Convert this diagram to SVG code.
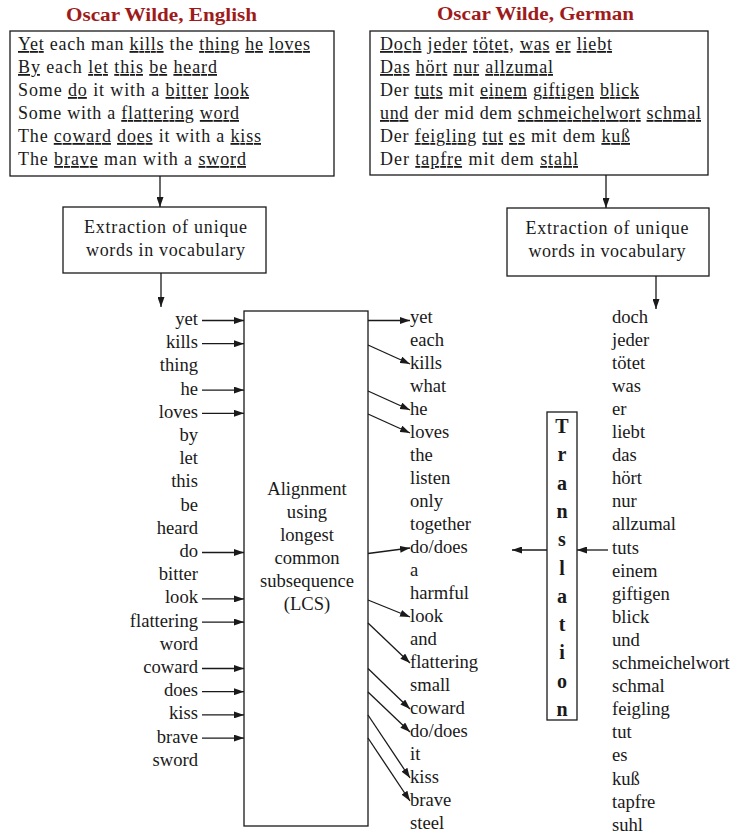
<svg xmlns="http://www.w3.org/2000/svg" width="733" height="835" viewBox="0 0 733 835">
<style>
.t{font-family:"Liberation Serif","Times New Roman",serif;font-size:18px;fill:#1a1a1a}
.w{font-size:18.6px}
.u{text-decoration:underline}
.ttl{font-weight:bold;fill:#9e1b1b}
.b{font-weight:bold;font-size:20px}
.box{fill:#fff;stroke:#1a1a1a;stroke-width:1.3}
.r{text-anchor:end}
.m{text-anchor:middle}
#connectors line{stroke:#1a1a1a;stroke-width:1.3;marker-end:url(#ah)}
</style>
<defs>
<marker id="ah" viewBox="0 0 10 7" markerWidth="10" markerHeight="7" markerUnits="userSpaceOnUse" refX="10" refY="3.5" orient="auto">
<path d="M0,0 L10,3.5 L0,7 z" fill="#1a1a1a"/>
</marker>
</defs>
<rect width="733" height="835" fill="#fff"/>

<g id="poem-en">
<text class="t ttl m" x="161.5" y="21" textLength="191" lengthAdjust="spacingAndGlyphs">Oscar Wilde, English</text>
<rect class="box" x="10" y="31" width="324" height="145"/>
<text class="t" x="18" y="50" textLength="292"><tspan class="u">Yet</tspan> each man <tspan class="u">kills</tspan> the <tspan class="u">thing</tspan> <tspan class="u">he</tspan> <tspan class="u">loves</tspan></text>
<text class="t" x="18" y="73" textLength="199"><tspan class="u">By</tspan> each <tspan class="u">let</tspan> <tspan class="u">this</tspan> <tspan class="u">be</tspan> <tspan class="u">heard</tspan></text>
<text class="t" x="18" y="96" textLength="231">Some <tspan class="u">do</tspan> it with a <tspan class="u">bitter</tspan> <tspan class="u">look</tspan></text>
<text class="t" x="18" y="119" textLength="221">Some with a <tspan class="u">flattering</tspan> <tspan class="u">word</tspan></text>
<text class="t" x="18" y="142" textLength="243">The <tspan class="u">coward</tspan> <tspan class="u">does</tspan> it with a <tspan class="u">kiss</tspan></text>
<text class="t" x="18" y="165" textLength="228">The <tspan class="u">brave</tspan> man with a <tspan class="u">sword</tspan></text>
</g>

<g id="poem-de">
<text class="t ttl m" x="535.5" y="20" textLength="197" lengthAdjust="spacingAndGlyphs">Oscar Wilde, German</text>
<rect class="box" x="370" y="31" width="338" height="144"/>
<text class="t" x="380" y="50" textLength="232"><tspan class="u">Doch</tspan> <tspan class="u">jeder</tspan> <tspan class="u">tötet</tspan>, <tspan class="u">was</tspan> <tspan class="u">er</tspan> <tspan class="u">liebt</tspan></text>
<text class="t" x="380" y="73" textLength="173"><tspan class="u">Das</tspan> <tspan class="u">hört</tspan> <tspan class="u">nur</tspan> <tspan class="u">allzumal</tspan></text>
<text class="t" x="380" y="96" textLength="259">Der <tspan class="u">tuts</tspan> mit <tspan class="u">einem</tspan> <tspan class="u">giftigen</tspan> <tspan class="u">blick</tspan></text>
<text class="t" x="380" y="119" textLength="321"><tspan class="u">und</tspan> der mid dem <tspan class="u">schmeichelwort</tspan> <tspan class="u">schmal</tspan></text>
<text class="t" x="380" y="142" textLength="250">Der <tspan class="u">feigling</tspan> <tspan class="u">tut</tspan> <tspan class="u">es</tspan> mit dem <tspan class="u">kuß</tspan></text>
<text class="t" x="380" y="165" textLength="198">Der <tspan class="u">tapfre</tspan> mit dem <tspan class="u">stahl</tspan></text>
</g>

<g id="extract-en">
<rect class="box" x="63" y="207" width="203" height="66"/>
<text class="t m" x="165.5" y="233" textLength="163">Extraction of unique</text>
<text class="t m" x="165.5" y="256" textLength="159">words in vocabulary</text>
</g>

<g id="extract-de">
<rect class="box" x="507" y="208" width="202" height="68"/>
<text class="t m" x="607" y="234" textLength="163">Extraction of unique</text>
<text class="t m" x="607" y="257" textLength="157">words in vocabulary</text>
</g>

<g id="vocab-en">
<text class="t w r" x="198" y="325">yet</text>
<text class="t w r" x="198" y="348.2">kills</text>
<text class="t w r" x="198" y="371.4">thing</text>
<text class="t w r" x="198" y="394.6">he</text>
<text class="t w r" x="198" y="417.8">loves</text>
<text class="t w r" x="198" y="441">by</text>
<text class="t w r" x="198" y="464.2">let</text>
<text class="t w r" x="198" y="487.4">this</text>
<text class="t w r" x="198" y="510.6">be</text>
<text class="t w r" x="198" y="533.8">heard</text>
<text class="t w r" x="198" y="557">do</text>
<text class="t w r" x="198" y="580.2">bitter</text>
<text class="t w r" x="198" y="603.4">look</text>
<text class="t w r" x="198" y="626.6">flattering</text>
<text class="t w r" x="198" y="649.8">word</text>
<text class="t w r" x="198" y="673">coward</text>
<text class="t w r" x="198" y="696.2">does</text>
<text class="t w r" x="198" y="719.4">kiss</text>
<text class="t w r" x="198" y="742.6">brave</text>
<text class="t w r" x="198" y="765.8">sword</text>
</g>

<g id="lcs">
<rect class="box" x="244" y="311" width="124" height="515"/>
<text class="t w m" x="307" y="495">Alignment</text>
<text class="t w m" x="307" y="518">using</text>
<text class="t w m" x="307" y="541">longest</text>
<text class="t w m" x="307" y="564">common</text>
<text class="t w m" x="307" y="587">subsequence</text>
<text class="t w m" x="307" y="610">(LCS)</text>
</g>

<g id="aligned">
<text class="t w" x="410" y="323">yet</text>
<text class="t w" x="410" y="346">each</text>
<text class="t w" x="410" y="369">kills</text>
<text class="t w" x="410" y="392">what</text>
<text class="t w" x="410" y="415">he</text>
<text class="t w" x="410" y="438">loves</text>
<text class="t w" x="410" y="461">the</text>
<text class="t w" x="410" y="484">listen</text>
<text class="t w" x="410" y="507">only</text>
<text class="t w" x="410" y="530">together</text>
<text class="t w" x="410" y="553">do/does</text>
<text class="t w" x="410" y="576">a</text>
<text class="t w" x="410" y="599">harmful</text>
<text class="t w" x="410" y="622">look</text>
<text class="t w" x="410" y="645">and</text>
<text class="t w" x="410" y="668">flattering</text>
<text class="t w" x="410" y="691">small</text>
<text class="t w" x="410" y="714">coward</text>
<text class="t w" x="410" y="737">do/does</text>
<text class="t w" x="410" y="760">it</text>
<text class="t w" x="410" y="783">kiss</text>
<text class="t w" x="410" y="806">brave</text>
<text class="t w" x="410" y="829">steel</text>
</g>

<g id="translation">
<rect class="box" x="547" y="412" width="30" height="308"/>
<text class="t b m" x="562" y="433">T</text>
<text class="t b m" x="562" y="461.3">r</text>
<text class="t b m" x="562" y="489.6">a</text>
<text class="t b m" x="562" y="517.9">n</text>
<text class="t b m" x="562" y="546.2">s</text>
<text class="t b m" x="562" y="574.5">l</text>
<text class="t b m" x="562" y="602.8">a</text>
<text class="t b m" x="562" y="631.1">t</text>
<text class="t b m" x="562" y="659.4">i</text>
<text class="t b m" x="562" y="687.7">o</text>
<text class="t b m" x="562" y="716">n</text>
</g>

<g id="vocab-de">
<text class="t w" x="612" y="322.5">doch</text>
<text class="t w" x="612" y="345.6">jeder</text>
<text class="t w" x="612" y="368.7">tötet</text>
<text class="t w" x="612" y="391.8">was</text>
<text class="t w" x="612" y="414.9">er</text>
<text class="t w" x="612" y="438">liebt</text>
<text class="t w" x="612" y="461.1">das</text>
<text class="t w" x="612" y="484.2">hört</text>
<text class="t w" x="612" y="507.3">nur</text>
<text class="t w" x="612" y="530.4">allzumal</text>
<text class="t w" x="612" y="553.5">tuts</text>
<text class="t w" x="612" y="576.6">einem</text>
<text class="t w" x="612" y="599.7">giftigen</text>
<text class="t w" x="612" y="622.8">blick</text>
<text class="t w" x="612" y="645.9">und</text>
<text class="t w" x="612" y="669">schmeichelwort</text>
<text class="t w" x="612" y="692.1">schmal</text>
<text class="t w" x="612" y="715.2">feigling</text>
<text class="t w" x="612" y="738.3">tut</text>
<text class="t w" x="612" y="761.4">es</text>
<text class="t w" x="612" y="784.5">kuß</text>
<text class="t w" x="612" y="807.6">tapfre</text>
<text class="t w" x="612" y="830.5">suhl</text>
</g>

<g id="connectors">
<line x1="160" y1="176" x2="160" y2="207"/>
<line x1="161" y1="273" x2="161" y2="307"/>
<line x1="606" y1="175" x2="606" y2="208"/>
<line x1="656" y1="276" x2="656" y2="309"/>
<line x1="202" y1="320.5" x2="244" y2="320.5"/>
<line x1="202" y1="343.7" x2="244" y2="343.7"/>
<line x1="202" y1="390.1" x2="244" y2="390.1"/>
<line x1="202" y1="413.3" x2="244" y2="413.3"/>
<line x1="202" y1="552.5" x2="244" y2="552.5"/>
<line x1="202" y1="598.9" x2="244" y2="598.9"/>
<line x1="202" y1="622.1" x2="244" y2="622.1"/>
<line x1="202" y1="668.5" x2="244" y2="668.5"/>
<line x1="202" y1="691.7" x2="244" y2="691.7"/>
<line x1="202" y1="714.9" x2="244" y2="714.9"/>
<line x1="202" y1="738.1" x2="244" y2="738.1"/>
<line x1="368" y1="320.5" x2="410" y2="320.5"/>
<line x1="368" y1="345" x2="410" y2="364"/>
<line x1="368" y1="391" x2="410" y2="410"/>
<line x1="368" y1="414" x2="410" y2="433"/>
<line x1="368" y1="553.5" x2="410" y2="548"/>
<line x1="368" y1="600" x2="410" y2="617"/>
<line x1="368" y1="623" x2="410" y2="663"/>
<line x1="368" y1="668.5" x2="410" y2="709"/>
<line x1="368" y1="692" x2="410" y2="732"/>
<line x1="368" y1="715" x2="410" y2="778"/>
<line x1="368" y1="738" x2="410" y2="801"/>
<line x1="608" y1="550" x2="577" y2="550"/>
<line x1="547" y1="550" x2="512" y2="550"/>
</g>
</svg>
